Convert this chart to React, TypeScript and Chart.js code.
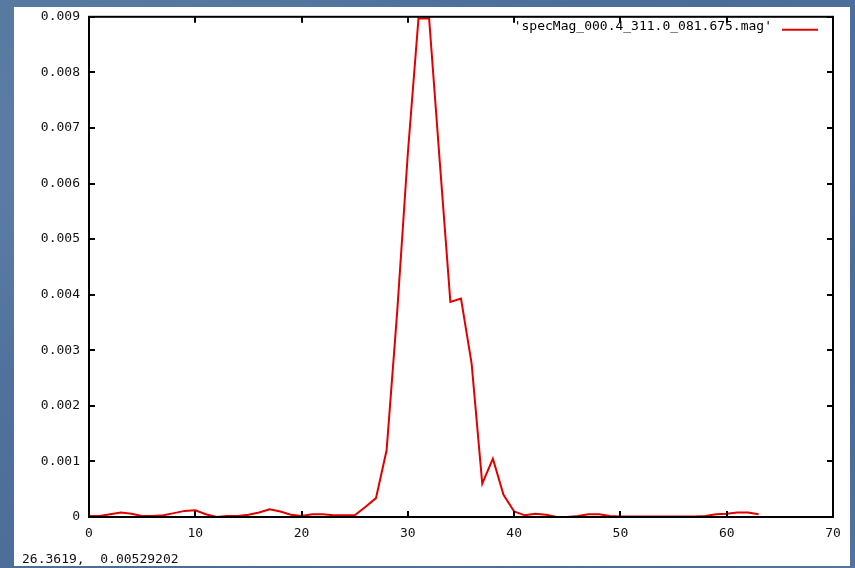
import React, { useEffect, useRef } from "react";
import { Chart, registerables } from "chart.js";

Chart.register(...registerables);

// ---- data ----
const xValues = [
  0, 1, 2, 3, 4, 5, 6, 7, 8, 9, 10, 11, 12, 13, 14, 15, 16, 17, 18, 19,
  20, 21, 22, 23, 24, 25, 26, 27, 28, 29, 30, 31, 32, 33, 34, 35, 36, 37, 38, 39,
  40, 41, 42, 43, 44, 45, 46, 47, 48, 49, 50, 51, 52, 53, 54, 55, 56, 57, 58, 59,
  60, 61, 62, 63,
];
const magnitudes = [
  0.00002, 0.00002, 0.00005, 0.00008, 0.00006, 0.00002, 0.00002, 0.00003, 0.00007, 0.00011,
  0.00012, 0.00005, 0.0, 0.00002, 0.00002, 0.00004, 0.00008, 0.00014, 0.0001, 0.00004,
  0.00002, 0.00005, 0.00005, 0.00003, 0.00003, 0.00003, 0.00018, 0.00034, 0.0012, 0.0037,
  0.00655, 0.00897, 0.00897, 0.0064, 0.00387, 0.00393, 0.00276, 0.0006, 0.00105, 0.0004,
  0.0001, 0.00003, 0.00006, 0.00004, 0.0, 0.0, 0.00002, 0.00005, 0.00005, 0.00002,
  0.00001, 0.00001, 0.00001, 0.00001, 0.00001, 0.00001, 0.00001, 0.00001, 0.00002, 0.00005,
  0.00006, 0.00008, 0.00008, 0.00005,
];
const seriesLabel = "'specMag_000.4_311.0_081.675.mag'";
const xTicks = [0, 10, 20, 30, 40, 50, 60, 70];
const yTicks = [0, 0.001, 0.002, 0.003, 0.004, 0.005, 0.006, 0.007, 0.008, 0.009];
const statusText = "26.3619,  0.00529202";

const FONT = "'DejaVu Sans Mono', monospace";
const LINE_COLOR = "#e00000";

const framePlugin = {
  id: "gnuplotFrame",
  afterDatasetsDraw(chart: any) {
    const { ctx, chartArea } = chart;
    const { left, right, top, bottom } = chartArea;
    const xs = chart.scales.x;
    const ys = chart.scales.y;
    const tl = 6;
    ctx.save();
    ctx.strokeStyle = "#000";
    ctx.lineWidth = 2;
    ctx.strokeRect(left, top, right - left, bottom - top);
    ctx.lineWidth = 2;
    ctx.beginPath();
    xs.ticks.forEach((t: any) => {
      const px = Math.round(xs.getPixelForValue(t.value));
      ctx.moveTo(px, bottom);
      ctx.lineTo(px, bottom - tl);
      ctx.moveTo(px, top);
      ctx.lineTo(px, top + tl);
    });
    ys.ticks.forEach((t: any) => {
      const py = Math.round(ys.getPixelForValue(t.value));
      ctx.moveTo(left, py);
      ctx.lineTo(left + tl, py);
      ctx.moveTo(right, py);
      ctx.lineTo(right - tl, py);
    });
    ctx.stroke();

    // key (top right, inside)
    const ds = chart.data.datasets[0];
    const sampleRight = right - 15;
    const sampleLeft = sampleRight - 36;
    const ky = top + 13;
    ctx.font = `13px ${FONT}`;
    ctx.fillStyle = "#000";
    ctx.textAlign = "right";
    ctx.textBaseline = "alphabetic";
    ctx.fillText(ds.label, sampleLeft - 10, ky);
    ctx.strokeStyle = ds.borderColor;
    ctx.lineWidth = 2;
    ctx.beginPath();
    ctx.moveTo(sampleLeft, ky);
    ctx.lineTo(sampleRight, ky);
    ctx.stroke();
    ctx.restore();
  },
};

export default function App() {
  const canvasRef = useRef<HTMLCanvasElement | null>(null);

  useEffect(() => {
    if (!canvasRef.current) return;
    const points = xValues.map((x, i) => ({ x, y: magnitudes[i] }));
    const chart = new Chart(canvasRef.current, {
      type: "line",
      data: {
        datasets: [
          {
            label: seriesLabel,
            data: points,
            borderColor: LINE_COLOR,
            borderWidth: 2,
            pointRadius: 0,
            tension: 0,
            fill: false,
          },
        ],
      },
      options: {
        animation: false,
        responsive: false,
        devicePixelRatio: 1,
        layout: { padding: { left: 14, right: 22, top: 16, bottom: 21 } },
        plugins: {
          legend: { display: false },
          tooltip: { enabled: false },
        },
        scales: {
          x: {
            type: "linear",
            min: 0,
            max: 70,
            afterBuildTicks: (s: any) => {
              s.ticks = xTicks.map((v) => ({ value: v }));
            },
            afterFit: (s: any) => {
              s.height = 30;
            },
            grid: { display: false, drawTicks: false },
            border: { display: false },
            ticks: {
              padding: 9,
              color: "#111",
              font: { family: FONT, size: 13 },
              maxRotation: 0,
              callback: (v: any) => String(v),
            },
          },
          y: {
            type: "linear",
            min: 0,
            max: 0.009,
            afterBuildTicks: (s: any) => {
              s.ticks = yTicks.map((v) => ({ value: v }));
            },
            afterFit: (s: any) => {
              s.width = 75;
            },
            grid: { display: false, drawTicks: false },
            border: { display: false },
            ticks: {
              padding: 9,
              color: "#111",
              font: { family: FONT, size: 13 },
              callback: (v: any) => (v === 0 ? "0" : Number(v).toFixed(3)),
            },
          },
        },
      },
      plugins: [framePlugin],
    });
    return () => chart.destroy();
  }, []);

  return (
    <div
      style={{
        position: "fixed",
        left: 0,
        top: 0,
        width: 855,
        height: 568,
        overflow: "hidden",
        background:
          "radial-gradient(ellipse at 20% 30%, rgba(120,150,190,0.35), transparent 40%), radial-gradient(ellipse at 80% 70%, rgba(40,70,110,0.35), transparent 45%), linear-gradient(135deg, #55789f 0%, #4a6c98 50%, #5678a3 100%)",
      }}
    >
      <div
        style={{
          position: "absolute",
          left: 14,
          top: 7,
          width: 836,
          height: 559,
          background: "#fff",
        }}
      />
      <canvas
        ref={canvasRef}
        width={855}
        height={568}
        style={{ position: "absolute", left: 0, top: 0, display: "block" }}
      />
      <div
        style={{
          position: "absolute",
          left: 22,
          top: 552,
          font: `13px ${FONT}`,
          lineHeight: "13px",
          color: "#111",
          whiteSpace: "pre",
        }}
      >
        {statusText}
      </div>
    </div>
  );
}
